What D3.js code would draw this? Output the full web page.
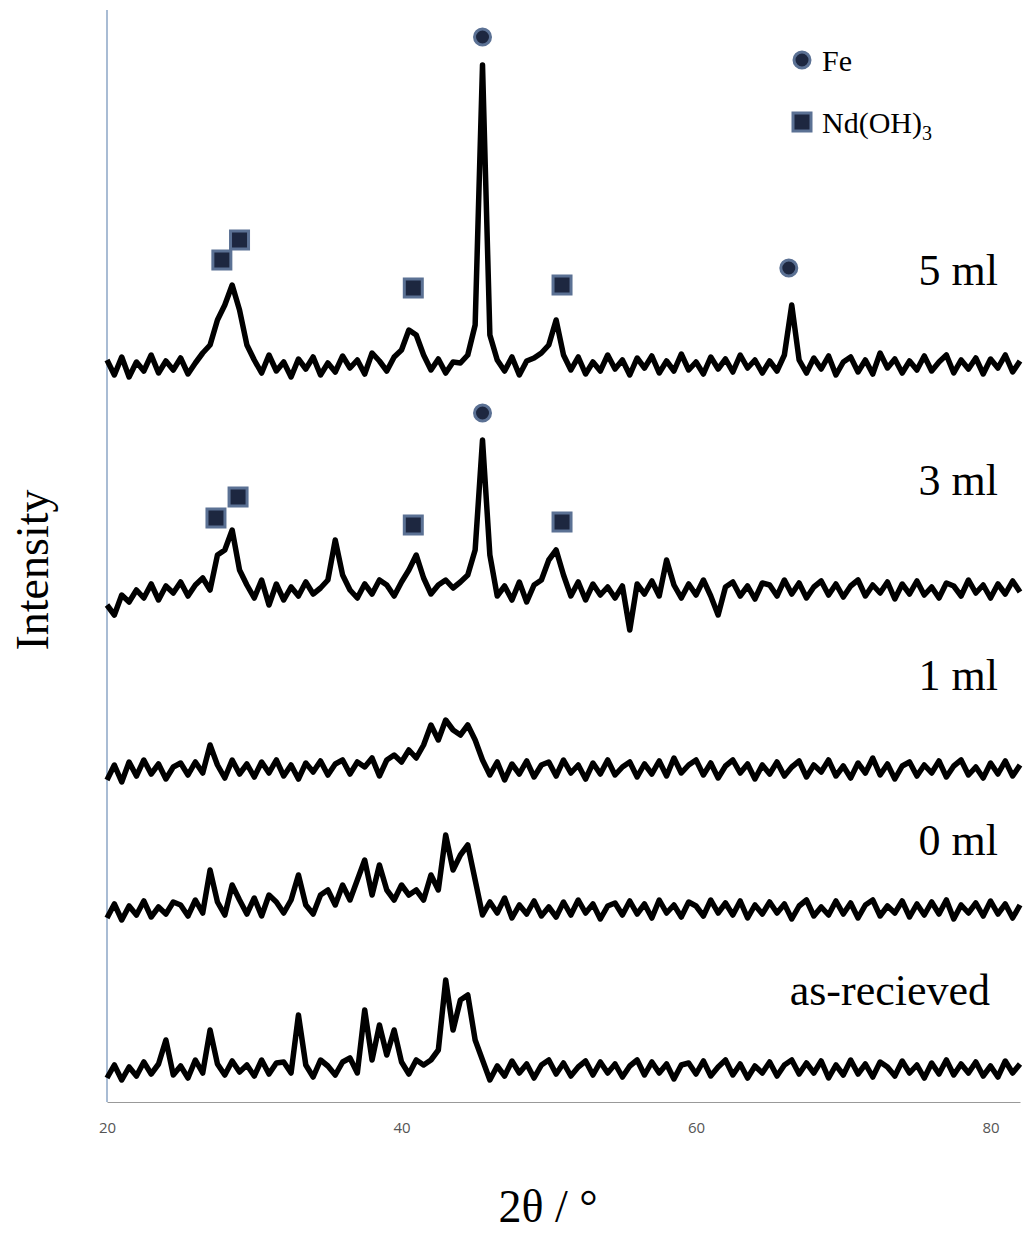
<!DOCTYPE html>
<html><head><meta charset="utf-8">
<script src="https://cdn.jsdelivr.net/npm/d3@7"></script>
<style>body{margin:0;background:#fff}</style>
</head><body>
<div id="chart"></div>
<script>
// ---- DATA (2theta grid 20..82 step 0.5, intensities relative to each trace baseline) ----
const X_START = 20, X_STEP = 0.5;
const SERIES_NAMES = ["5 ml", "3 ml", "1 ml", "0 ml", "as-recieved"];
const SERIES_OFFSETS = [737, 512, 332, 192, 32];
const TRACE_5ML = [5,-10,8,-12,3,-6,10,-8,4,-5, 7,-9,2,12,20,45,60,80,55,20, 5,-8,10,-6,3,-12,6,-4,8,-10,
  2,-7,9,-3,5,-9,12,4,-6,8, 15,35,30,10,-5,6,-8,3,2,10, 40,300,30,5,-6,8,-10,4,7,12, 20,45,10,-5,8,-9,3,-6,10,-4,
  5,-10,7,-3,9,-8,4,-6,11,-5, 3,-9,8,-4,6,-7,10,-3,5,-8, 4,-6,10,60,5,-8,7,-4,9,-10, 3,8,-7,5,-9,12,-3,6,-8,4,
  -5,9,-6,3,10,-8,5,-4,7,-9, 6,-3,10,-7,4];
const TRACE_3ML = [-15,-25,-5,-12,0,-8,6,-10,4,-3, 8,-6,5,12,0,35,40,60,20,5, -8,10,-15,6,-10,3,-6,8,-4,2,
  10,50,15,0,-8,6,-4,10,5,-6, 8,20,35,12,-4,5,10,2,8,15, 40,150,35,-6,4,-10,8,-12,5,10, 30,40,15,-6,8,-10,6,-5,3,-8,
  4,-40,6,-4,9,-6,30,5,-8,6, -5,10,-6,-25,3,8,-6,4,-9,7, 5,-6,10,-4,7,-8,3,9,-5,6, -7,4,10,-6,5,-3,8,-9,6,-4,
  9,-5,3,-8,7,4,-6,10,-3,5, -8,6,-4,9,-2];
const TRACE_1ML = [-10,5,-12,8,-6,10,-4,6,-9,3, 7,-5,8,-3,25,5,-8,10,-4,6, -7,8,-3,10,-6,5,-9,7,-2,9,
  -5,6,10,-4,8,3,12,-6,10,15, 8,20,12,25,45,30,50,40,35,45, 30,10,-5,8,-10,6,-4,9,-7,5, 8,-6,10,-3,5,-9,7,-4,10,-5,
  3,8,-7,6,-4,9,-6,12,-3,5, 10,-5,7,-8,4,10,-3,6,-9,5, -4,8,-6,3,9,-7,5,-2,10,-6, 4,-8,7,-3,12,-5,6,-9,4,8,
  -6,5,-3,9,-7,4,10,-5,3,-8, 7,-4,9,-6,5];
const TRACE_0ML = [-8,6,-10,4,-5,9,-7,3,-4,8, 5,-6,10,-3,40,8,-5,25,10,-4, 12,-6,15,8,-3,10,35,5,-4,15,
  20,5,25,10,30,50,15,45,20,10, 25,15,20,10,35,20,75,40,55,65, 30,-5,8,-3,12,-8,5,-4,9,-6, 3,-7,8,-5,10,-3,6,-9,4,7,
  -5,9,-4,6,-8,10,-3,5,-7,8, 4,-6,10,-3,7,-5,9,-8,5,-4, 8,-3,6,-9,4,10,-6,3,-5,9, -4,7,-8,5,10,-6,4,-3,9,-7,
  6,-5,8,-4,10,-9,5,-3,7,-6, 9,-4,6,-8,5];
const TRACE_ASREC = [-8,5,-10,3,-6,8,-4,6,30,-5, 4,-8,10,-3,40,6,-5,9,-2,5, -6,10,-4,7,8,-3,55,5,-7,10,
  4,-5,8,12,-3,60,10,45,15,40, 8,-4,10,5,10,20,90,40,70,75, 30,10,-10,4,-6,9,-3,6,-8,5, 10,-4,7,-6,3,9,-5,8,-3,6,
  -7,4,10,-5,8,-3,6,-9,5,7, -4,9,-6,3,10,-5,6,-8,4,-3, 8,-6,5,10,-4,7,-3,9,-8,5, -5,10,-4,6,-7,8,3,-6,9,-3,
  5,-8,7,-4,10,-5,6,-3,8,-6, 4,-7,9,-3,6];
const TRACES = [TRACE_5ML, TRACE_3ML, TRACE_1ML, TRACE_0ML, TRACE_ASREC];

// phase markers [2theta, intensity]
const FE_MARKS = [[45.5, 1065], [66.3, 834], [45.5, 689]];
const ND_MARKS = [[27.8, 842], [29.0, 862], [40.8, 814], [50.9, 817],
                  [27.4, 584], [28.9, 605], [40.8, 577], [50.9, 580]];
const X_TICKS = [20, 40, 60, 80];

// ---- LAYOUT ----
const W = 1024, H = 1240;
const SERIF = "'Liberation Serif','Times New Roman',serif";
const svg = d3.select("#chart").append("svg").attr("width", W).attr("height", H);

const X = d3.scaleLinear().domain([20, 82]).range([107, 1020]);
const Y = d3.scaleLinear().domain([0, 1102]).range([1102, 0]);

// axes
svg.append("line").attr("x1", 107).attr("x2", 107).attr("y1", 10).attr("y2", Y(0))
   .attr("stroke", "#6f8fb8").attr("stroke-width", 1.2);
const xAxis = svg.append("g").attr("transform", "translate(0," + Y(0) + ")")
   .call(d3.axisBottom(X).tickValues(X_TICKS).tickSize(0).tickPadding(20));
xAxis.select(".domain").attr("stroke", "#999");
xAxis.selectAll("text").style("font-size", "15px").attr("fill", "#555")
   .style("font-family", "'Open Sans',sans-serif");

// traces
const line = d3.line().x((d, i) => X(X_START + i * X_STEP));
TRACES.forEach((tr, k) => {
  svg.append("path")
     .attr("d", line.y(v => Y(SERIES_OFFSETS[k] + v))(tr))
     .attr("fill", "none").attr("stroke", "#000")
     .attr("stroke-width", 5.5).attr("stroke-linejoin", "round");
});

// series labels
const LABEL_Y = [285, 495, 690, 855, 1005];
SERIES_NAMES.forEach((n, k) => {
  svg.append("text").attr("x", k === 4 ? 990 : 998).attr("y", LABEL_Y[k])
     .attr("text-anchor", "end").attr("font-family", SERIF).attr("font-size", 44).text(n);
});

// markers
const FILL = "#1d2740", EDGE = "#5b7194";
svg.selectAll(".fe").data(FE_MARKS).enter().append("circle")
   .attr("cx", d => X(d[0])).attr("cy", d => Y(d[1])).attr("r", 8)
   .attr("fill", FILL).attr("stroke", EDGE).attr("stroke-width", 3);
svg.selectAll(".nd").data(ND_MARKS).enter().append("rect")
   .attr("x", d => X(d[0]) - 9).attr("y", d => Y(d[1]) - 9).attr("width", 18).attr("height", 18)
   .attr("fill", FILL).attr("stroke", EDGE).attr("stroke-width", 3);

// legend
svg.append("circle").attr("cx", 802).attr("cy", 60).attr("r", 8)
   .attr("fill", FILL).attr("stroke", EDGE).attr("stroke-width", 3);
svg.append("text").attr("x", 822).attr("y", 71).attr("font-family", SERIF).attr("font-size", 30).text("Fe");
svg.append("rect").attr("x", 793).attr("y", 113).attr("width", 18).attr("height", 18)
   .attr("fill", FILL).attr("stroke", EDGE).attr("stroke-width", 3);
const lg = svg.append("text").attr("x", 822).attr("y", 133).attr("font-family", SERIF).attr("font-size", 30);
lg.append("tspan").text("Nd(OH)");
lg.append("tspan").attr("font-size", 20).attr("dy", 7).text("3");

// axis titles
svg.append("text").attr("transform", "translate(48,570) rotate(-90)").attr("text-anchor", "middle")
   .attr("font-family", SERIF).attr("font-size", 46).text("Intensity");
svg.append("text").attr("x", 548).attr("y", 1222).attr("text-anchor", "middle")
   .attr("font-family", SERIF).attr("font-size", 46).text("2θ / °");
</script>
</body></html>
